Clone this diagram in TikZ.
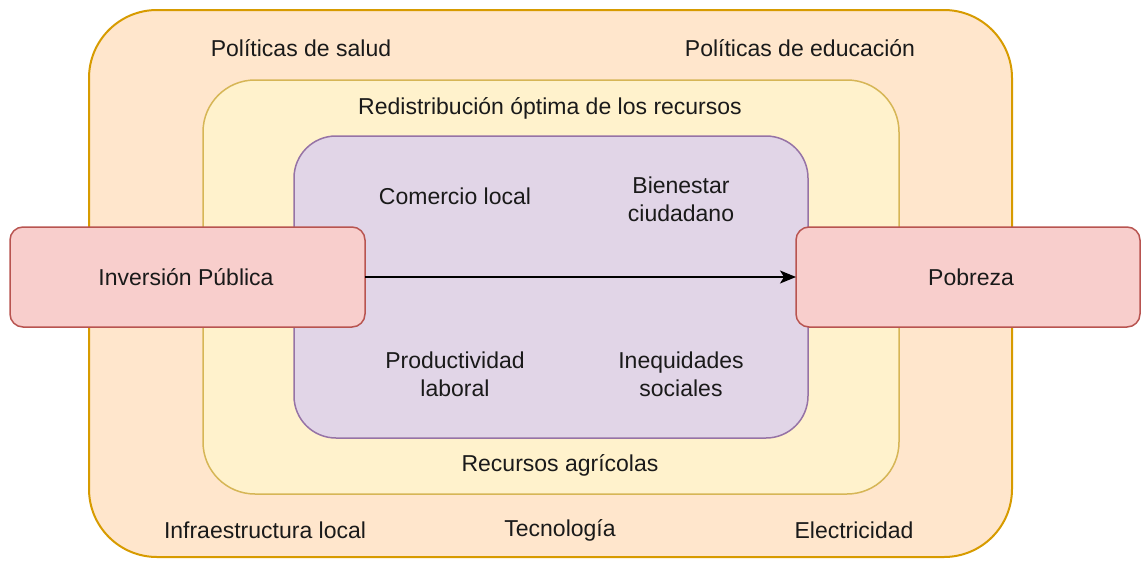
\documentclass[tikz,border=0pt]{standalone}
\usepackage{fontspec}
\setmainfont{Liberation Sans}
\usetikzlibrary{arrows.meta}
\definecolor{outerfill}{HTML}{FFE6CC}
\definecolor{outerdraw}{HTML}{D79B00}
\definecolor{midfill}{HTML}{FFF2CC}
\definecolor{middraw}{HTML}{D6B656}
\definecolor{innerfill}{HTML}{E1D5E7}
\definecolor{innerdraw}{HTML}{9673A6}
\definecolor{redfill}{HTML}{F8CECC}
\definecolor{reddraw}{HTML}{B85450}
\definecolor{txt}{HTML}{1A1A1A}
\tikzset{
  lbl/.style={font=\fontsize{23}{28}\selectfont, text=txt, align=center, inner sep=0pt},
  redbox/.style={draw=reddraw, fill=redfill, line width=1.5pt, rounded corners=13pt}
}
\begin{document}
\begin{tikzpicture}[x=1pt,y=-1pt]
\useasboundingbox (0,0) rectangle (1141,560);
% outer
\draw[draw=outerdraw, fill=outerfill, line width=2pt, rounded corners=68pt] (89,10) rectangle (1012,557);
% middle
\draw[draw=middraw, fill=midfill, line width=1.5pt, rounded corners=52pt] (203,80) rectangle (899,494);
% inner
\draw[draw=innerdraw, fill=innerfill, line width=1.5pt, rounded corners=42pt] (294,136) rectangle (808,438);
% red boxes
\draw[redbox] (10,227) rectangle (365,327);
\draw[redbox] (796,227) rectangle (1140,327);
\coordinate (inv) at (186,277);
\coordinate (pob) at (971,277);
\node[lbl] (tinv) at (inv) {Inversión Pública};
\node[lbl] (tpob) at (pob) {Pobreza};
\coordinate (aS) at (365,277);
\coordinate (aE) at (796,277);
\draw[line width=1.5pt, -{Stealth[length=16pt,width=13pt,inset=4pt]}] (aS) -- (aE);
% labels
\node[lbl] (p1) at (301,48) {Políticas de salud};
\node[lbl] (p2) at (800,48) {Políticas de educación};
\node[lbl] (r1) at (550,108) {Redistribución óptima de los recursos};
\node[lbl] (c1) at (455,196) {Comercio local};
\node[lbl] (b1) at (681,199) {Bienestar\\ciudadano};
\node[lbl] (pl) at (455,374) {Productividad\\laboral};
\node[lbl] (is) at (681,374) {Inequidades\\sociales};
\node[lbl] (ra) at (560,465) {Recursos agrícolas};
\node[lbl] (il) at (265,530) {Infraestructura local};
\node[lbl] (te) at (560,530) {Tecnología};
\node[lbl] (el) at (854,530) {Electricidad};
\end{tikzpicture}
\end{document}
